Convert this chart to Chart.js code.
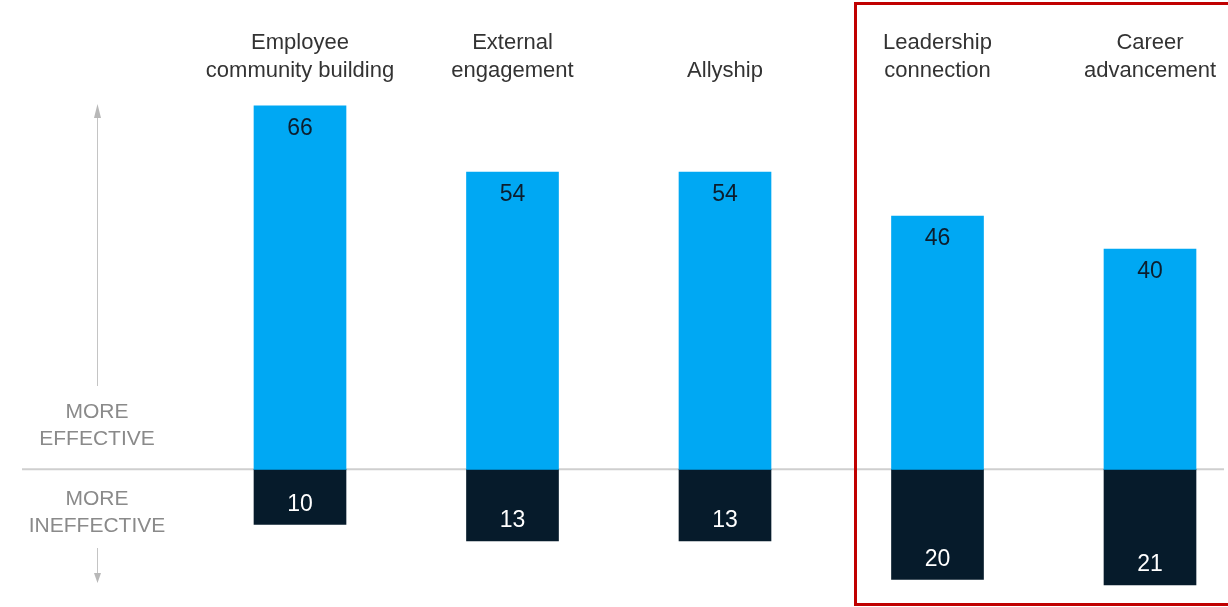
<!DOCTYPE html>
<html>
<head>
<meta charset="utf-8">
<script src="https://cdn.jsdelivr.net/npm/chart.js@4"></script>
<style>
  html, body { margin: 0; padding: 0; background: #fff; overflow: hidden; }
  #wrap { width: 1228px; height: 607px; position: relative; }
</style>
</head>
<body>
<div id="wrap"><canvas id="chart"></canvas></div>
<script>
const categories = [
  ["Employee", "community building"],
  ["External", "engagement"],
  ["Allyship"],
  ["Leadership", "connection"],
  ["Career", "advancement"]
];
const effective = [66, 54, 54, 46, 40];
const ineffective = [10, 13, 13, 20, 21];

const blue = "#00a8f3";
const navy = "#061b2b";
const font = "'Liberation Sans', Arial, sans-serif";

// baseline, side arrow labels and the red highlight box
const decor = {
  id: "decor",
  beforeDatasetsDraw(chart) {
    const c = chart.ctx;
    const y0 = chart.scales.y.getPixelForValue(0);
    c.save();
    c.strokeStyle = "#cfcfcf";
    c.lineWidth = 2;
    c.beginPath();
    c.moveTo(22, y0);
    c.lineTo(1224, y0);
    c.stroke();

    // arrows
    c.strokeStyle = "#c4c4c4";
    c.fillStyle = "#b8b8b8";
    c.lineWidth = 1;
    c.beginPath();
    c.moveTo(97.5, 112);
    c.lineTo(97.5, 386);
    c.moveTo(97.5, 548);
    c.lineTo(97.5, 575);
    c.stroke();
    c.beginPath();
    c.moveTo(97.5, 104);
    c.lineTo(94, 118);
    c.lineTo(101, 118);
    c.closePath();
    c.fill();
    c.beginPath();
    c.moveTo(97.5, 583);
    c.lineTo(94, 573);
    c.lineTo(101, 573);
    c.closePath();
    c.fill();

    c.fillStyle = "#8a8a8a";
    c.font = "21px " + font;
    c.textAlign = "center";
    c.textBaseline = "middle";
    c.fillText("MORE", 97, 412);
    c.fillText("EFFECTIVE", 97, 439);
    c.fillText("MORE", 97, 499);
    c.fillText("INEFFECTIVE", 97, 526);
    c.restore();
  },
  afterDatasetsDraw(chart) {
    const c = chart.ctx;
    c.save();
    c.font = "23px " + font;
    c.textAlign = "center";
    c.textBaseline = "middle";
    chart.data.datasets.forEach((ds, di) => {
      const meta = chart.getDatasetMeta(di);
      meta.data.forEach((bar, i) => {
        const v = Math.abs(ds.data[i]);
        if (di === 0) {
          c.fillStyle = "#0c1e2e";
          c.fillText(String(v), bar.x, bar.y + 23);
        } else {
          c.fillStyle = "#ffffff";
          c.fillText(String(v), bar.x, bar.y - 20);
        }
      });
    });
    c.restore();
  },
  afterDraw(chart) {
    const c = chart.ctx;
    c.save();
    c.strokeStyle = "#c00000";
    c.lineWidth = 3;
    c.strokeRect(855.5, 3.5, 400, 601);
    c.restore();
  }
};

new Chart(document.getElementById("chart"), {
  type: "bar",
  data: {
    labels: categories,
    datasets: [
      {
        label: "More effective",
        data: effective,
        backgroundColor: blue,
        barThickness: 92,
        clip: false
      },
      {
        label: "More ineffective",
        data: ineffective.map(v => -v),
        backgroundColor: navy,
        barThickness: 92,
        clip: false
      }
    ]
  },
  options: {
    responsive: true,
    maintainAspectRatio: false,
    animation: false,
    layout: { padding: { left: 300, right: 78, top: 8, bottom: 22 } },
    plugins: {
      legend: { display: false },
      tooltip: { enabled: false }
    },
    scales: {
      x: {
        position: "top",
        stacked: true,
        offset: false,
        grid: { display: false, drawTicks: false },
        border: { display: false },
        afterFit(scale) {
          // edge labels may hang over the layout padding
          scale.paddingLeft = 0;
          scale.paddingRight = 0;
        },
        ticks: {
          color: "#333333",
          font: { family: font, size: 22, lineHeight: 1.27 },
          padding: 21,
          maxRotation: 0,
          autoSkip: false
        }
      },
      y: {
        display: false,
        stacked: true,
        min: -21,
        max: 66
      }
    }
  },
  plugins: [decor]
});
</script>
</body>
</html>
